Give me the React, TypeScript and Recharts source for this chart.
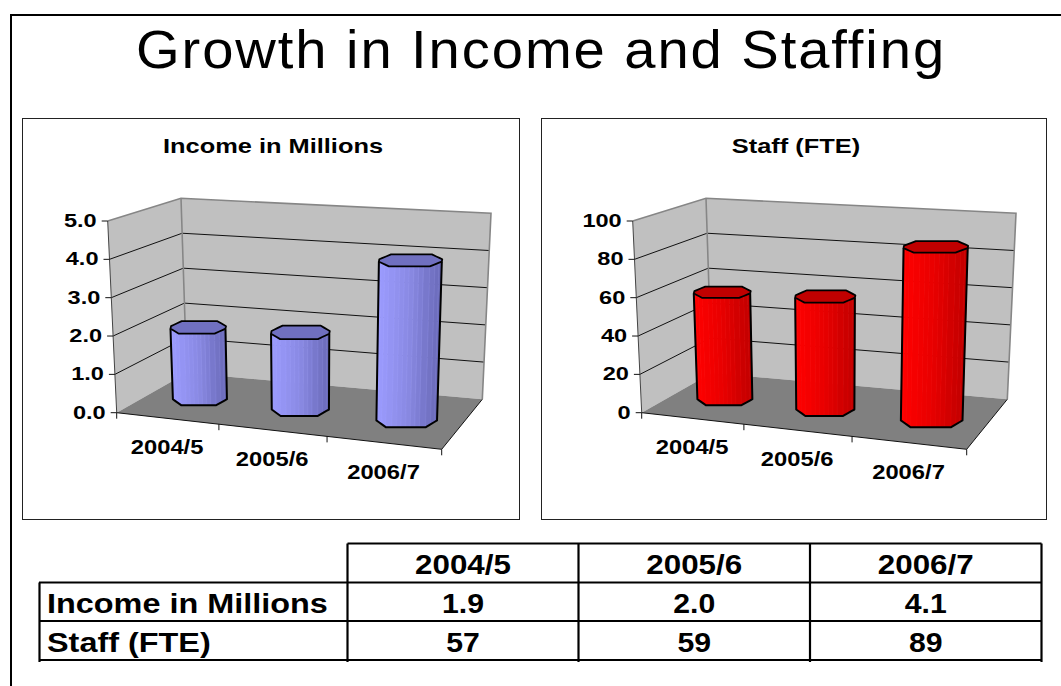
import { BarChart, Bar, XAxis, YAxis } from 'recharts'

const years = ['2004/5', '2005/6', '2006/7']
const incomeValues = [1.9, 2.0, 4.1]
const staffValues = [57, 59, 89]
const incomeTicks = [0, 1, 2, 3, 4, 5]
const staffTicks = [0, 20, 40, 60, 80, 100]
const incomeLabels = ['1.9', '2.0', '4.1']
const staffLabels = ['57', '59', '89']

const FONT = '"Liberation Sans", Arial, sans-serif'
const CHART_W = 500
const CHART_H = 400

// plot rectangle handed to recharts, remapped onto the 3D box below
const PLOT = { left: 95, top: 103, width: 325, height: 192 }

// box corners in chart pixels: [x, y], named front/back, left/right, bottom/top
const BOX = {
  flb: [94.7, 294.7],
  frb: [419.7, 331.3],
  flt: [85.7, 103],
  frt: [425, 127],
  blb: [164.7, 255],
  brb: [460.3, 281.3],
  blt: [159, 80.3],
  brt: [469, 95.3],
}

const mix = (a: number[], b: number[], t: number) => [a[0] + (b[0] - a[0]) * t, a[1] + (b[1] - a[1]) * t]

// columns get wider toward the viewer's right
const warp = (u: number) => u / (u + 1.09 * (1 - u))

function project(u: number, v: number, d: number) {
  const w = warp(u)
  const front = mix(mix(BOX.flb, BOX.frb, w), mix(BOX.flt, BOX.frt, w), v)
  const back = mix(mix(BOX.blb, BOX.brb, w), mix(BOX.blt, BOX.brt, w), v)
  return mix(front, back, d)
}

const pts = (list: number[][]) => list.map((p) => `${p[0].toFixed(2)},${p[1].toFixed(2)}`).join(' ')

function StretchText({ x, y, size, sx, anchor = 'middle', weight = 700, spacing, children }: any) {
  return (
    <text
      transform={`translate(${x} ${y}) scale(${sx} 1)`}
      textAnchor={anchor}
      fontFamily={FONT}
      fontWeight={weight}
      fontSize={size}
      letterSpacing={spacing}
      fill="#000"
    >
      {children}
    </text>
  )
}

function Walls({ ticks, count }: { ticks: number[]; count: number }) {
  const max = ticks[ticks.length - 1]
  const edge = '#868686'
  return (
    <g>
      <polygon points={pts([project(0, 0, 0), project(0, 1, 0), project(0, 1, 1), project(0, 0, 1)])} fill="#c0c0c0" />
      <polygon points={pts([project(0, 0, 1), project(0, 1, 1), project(1, 1, 1), project(1, 0, 1)])} fill="#c0c0c0" />
      <polygon points={pts([project(0, 0, 0), project(1, 0, 0), project(1, 0, 1), project(0, 0, 1)])} fill="#808080" />
      {ticks.slice(1, -1).map((t) => (
        <polyline
          key={t}
          points={pts([project(0, t / max, 0), project(0, t / max, 1), project(1, t / max, 1)])}
          fill="none"
          stroke="#111"
          strokeWidth={1}
        />
      ))}
      <polyline points={pts([project(0, 1, 0), project(0, 1, 1), project(1, 1, 1), project(1, 0, 1)])} fill="none" stroke={edge} strokeWidth={1.6} />
      <polyline points={pts([project(0, 1, 1), project(0, 0, 1)])} fill="none" stroke={edge} strokeWidth={1.6} />
      <polyline points={pts([project(0, 1, 0), project(0, 0, 0)])} fill="none" stroke="#444" strokeWidth={1} />
      <polyline points={pts([project(0, 0, 0), project(1, 0, 0), project(1, 0, 1)])} fill="none" stroke="#111" strokeWidth={1} />
      {Array.from({ length: count + 1 }, (_, i) => {
        const p = project(i / count, 0, 0)
        return <line key={i} x1={p[0]} y1={p[1]} x2={p[0]} y2={p[1] + 6} stroke="#111" strokeWidth={1} />
      })}
    </g>
  )
}

// front half of the column's rounded section, t from -1 to 1
const frontDepth = (t: number) => {
  const a = Math.abs(t)
  return a <= 0.65 ? 1 : 1 - ((a - 0.65) / 0.35) * 0.8
}

const section = [-1, -0.92, -0.8, -0.65, -0.45, -0.3, -0.15, 0, 0.15, 0.3, 0.45, 0.65, 0.8, 0.92, 1]

const mix3 = (a: number[], b: number[], t: number) => a.map((n, i) => n + (b[i] - n) * t)

function shade(stops: number[][], t: number) {
  const s = Math.max(0, (t + 1) / 2)
  const c = s < 0.5 ? mix3(stops[0], stops[1], s * 2) : mix3(stops[1], stops[2], (s - 0.5) * 2)
  return `rgb(${c.map((n) => Math.round(n)).join(',')})`
}

function Column(props: any, stops: number[][], lid: string) {
  const { x, y, width } = props
  const u0 = (x - PLOT.left) / PLOT.width
  const u1 = (x + width - PLOT.left) / PLOT.width
  const v = (PLOT.top + PLOT.height - y) / PLOT.height
  const cu = (u0 + u1) / 2
  const hw = (u1 - u0) / 2

  // the section stays level and upright, only its depth follows the floor's foreshortening
  const at = (t: number, z: number, level: number) => {
    const c = project(cu, level, 0.5)
    const near = project(cu, level, 0.32)
    const side = project(cu + t * hw, level, 0.5)
    return [side[0] + (near[0] - c[0]) * 0.12 * z, c[1] + (near[1] - c[1]) * z]
  }

  const frontAt = (level: number) => section.map((t) => at(t, frontDepth(t), level))
  const backTop = section.slice().reverse().map((t) => at(t, -frontDepth(t), v))

  return (
    <g>
      {section.slice(0, -1).map((t, i) => (
        <polygon
          key={i}
          points={pts([
            at(t, frontDepth(t), v),
            at(section[i + 1], frontDepth(section[i + 1]), v),
            at(section[i + 1], frontDepth(section[i + 1]), 0),
            at(t, frontDepth(t), 0),
          ])}
          fill={shade(stops, (t + section[i + 1]) / 2)}
          stroke={shade(stops, t - 0.25)}
          strokeWidth={0.7}
        />
      ))}
      <polyline
        points={pts([...frontAt(v).slice(0, 1), ...frontAt(0), ...frontAt(v).slice(-1)])}
        fill="none"
        stroke="#000"
        strokeWidth={2}
        strokeLinejoin="round"
      />
      <polygon points={pts([...frontAt(v), ...backTop])} fill={lid} stroke="#000" strokeWidth={1.8} strokeLinejoin="round" />
    </g>
  )
}

interface PanelProps {
  title: string
  left: number
  boxLeft: number
  boxWidth: number
  values: number[]
  ticks: number[]
  tickFormat: (n: number) => string
  stops: number[][]
  lid: string
  gap: string
}

function Panel({ title, left, boxLeft, boxWidth, values, ticks, tickFormat, stops, lid, gap }: PanelProps) {
  const data = years.map((year, i) => ({ year, value: values[i] }))

  const YTick = (p: any) => {
    const v = (PLOT.top + PLOT.height - p.y) / PLOT.height
    const a = project(0, v, 0)
    return (
      <g>
        <line x1={a[0] - 6} y1={a[1]} x2={a[0]} y2={a[1]} stroke="#111" strokeWidth={1} />
        <StretchText x={a[0] - 11} y={a[1] + 6} size={19} sx={1.24} anchor="end">
          {tickFormat(p.payload.value)}
        </StretchText>
      </g>
    )
  }

  const XTick = (p: any) => {
    const a = project((p.x - PLOT.left) / PLOT.width, 0, 0)
    return (
      <StretchText x={a[0]} y={a[1] + 36} size={19.5} sx={1.22}>
        {p.payload.value}
      </StretchText>
    )
  }

  return (
    <>
      <div
        style={{
          position: 'absolute',
          left: boxLeft,
          top: 118,
          width: boxWidth,
          height: 402,
          boxSizing: 'border-box',
          border: '1.5px solid #222',
        }}
      />
      <div style={{ position: 'absolute', left, top: 118 }}>
        <BarChart
          width={CHART_W}
          height={CHART_H}
          data={data}
          barCategoryGap={gap}
          margin={{
            left: PLOT.left - 40,
            top: PLOT.top,
            right: CHART_W - PLOT.left - PLOT.width,
            bottom: CHART_H - PLOT.top - PLOT.height - 30,
          }}
        >
          <Walls ticks={ticks} count={years.length} />
          <XAxis dataKey="year" height={30} axisLine={false} tickLine={false} interval={0} tick={XTick} />
          <YAxis width={40} domain={[ticks[0], ticks[ticks.length - 1]]} ticks={ticks} axisLine={false} tickLine={false} interval={0} tick={YTick} />
          <Bar dataKey="value" isAnimationActive={false} shape={(p: any) => Column(p, stops, lid)} />
        </BarChart>
      </div>
      <svg style={{ position: 'absolute', left, top: 118 }} width={CHART_W} height={60}>
        <StretchText x={boxLeft - left + boxWidth / 2 + 2} y={35} size={21} sx={1.21}>
          {title}
        </StretchText>
      </svg>
    </>
  )
}

function SummaryTable() {
  const rowLines = [582.5, 621, 660]
  const columns = [347.5, 578.5, 810, 1041.5]
  const textRows = [
    { name: 'Income in Millions', labels: incomeLabels, y: 613 },
    { name: 'Staff (FTE)', labels: staffLabels, y: 652 },
  ]
  const centers = columns.slice(0, -1).map((c, i) => (c + columns[i + 1]) / 2)
  return (
    <svg style={{ position: 'absolute', left: 0, top: 0 }} width={1061} height={686}>
      <g stroke="#000" strokeWidth={2.2}>
        <line x1={columns[0]} y1={543.5} x2={columns[3]} y2={543.5} />
        {rowLines.map((y) => (
          <line key={y} x1={39} y1={y} x2={columns[3]} y2={y} />
        ))}
        {columns.map((x) => (
          <line key={x} x1={x} y1={543.5} x2={x} y2={662} />
        ))}
        <line x1={39.5} y1={582.5} x2={39.5} y2={662} />
      </g>
      {years.map((year, i) => (
        <StretchText key={year} x={centers[i]} y={574} size={28} sx={1.12}>
          {year}
        </StretchText>
      ))}
      {textRows.map((row) => (
        <g key={row.name}>
          <StretchText x={47} y={row.y} size={27} sx={1.2} anchor="start">
            {row.name}
          </StretchText>
          {row.labels.map((label, i) => (
            <StretchText key={i} x={centers[i]} y={row.y} size={27} sx={1.12}>
              {label}
            </StretchText>
          ))}
        </g>
      ))}
    </svg>
  )
}

export default function App() {
  return (
    <div style={{ position: 'absolute', left: 0, top: 0, width: 1061, height: 686, background: '#fff', overflow: 'hidden' }}>
      <div style={{ position: 'absolute', left: 10, top: 14, width: 1060, height: 690, boxSizing: 'border-box', border: '2px solid #000' }} />
      <svg style={{ position: 'absolute', left: 0, top: 0 }} width={1061} height={110}>
        <StretchText x={541} y={67.5} size={54} sx={1.04} weight={400} spacing={1.85}>
          Growth in Income and Staffing
        </StretchText>
      </svg>
      <Panel
        title="Income in Millions"
        left={22}
        boxLeft={22}
        boxWidth={498}
        values={incomeValues}
        ticks={incomeTicks}
        tickFormat={(n) => n.toFixed(1)}
        stops={[
          [156, 156, 255],
          [138, 138, 228],
          [106, 106, 184],
        ]}
        lid="#7070c0"
        gap="22.5%"
      />
      <Panel
        title="Staff (FTE)"
        left={547}
        boxLeft={541}
        boxWidth={506}
        values={staffValues}
        ticks={staffTicks}
        tickFormat={(n) => String(n)}
        stops={[
          [255, 0, 0],
          [232, 0, 0],
          [192, 0, 0],
        ]}
        lid="#c00000"
        gap="22%"
      />
      <SummaryTable />
    </div>
  )
}
